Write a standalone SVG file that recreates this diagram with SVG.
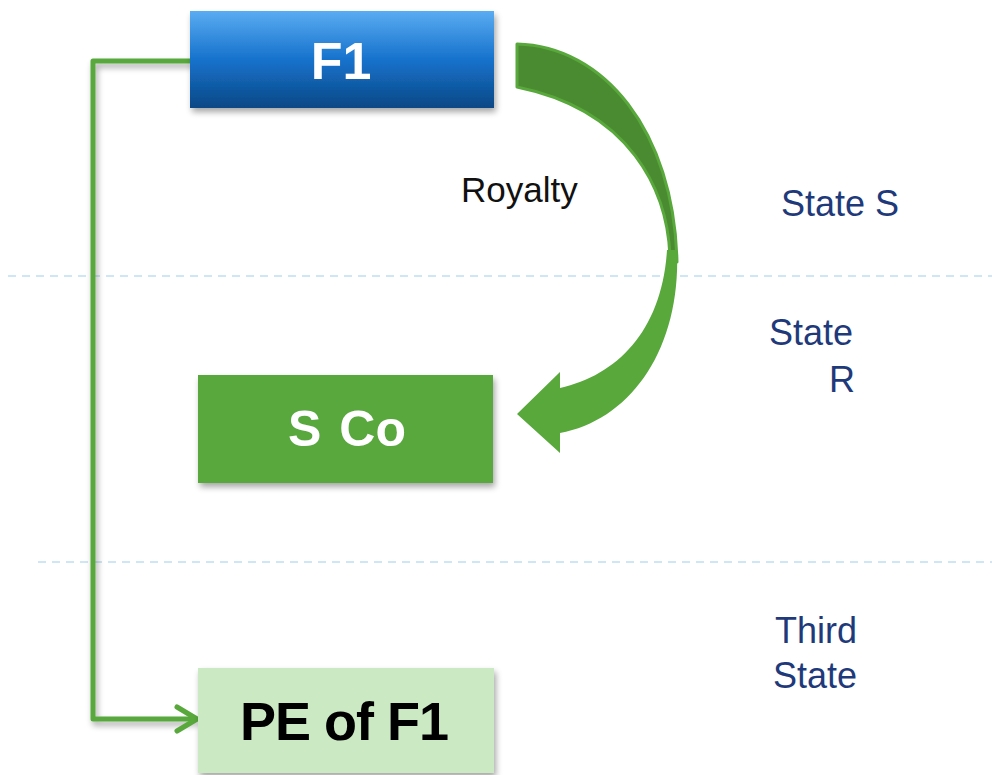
<svg xmlns="http://www.w3.org/2000/svg" width="992" height="775" viewBox="0 0 992 775">
<style>
.sep{stroke:#cfe6f5;stroke-width:2;stroke-dasharray:8 6;fill:none}
.state{font-family:"Liberation Sans",Arial,sans-serif;font-size:36px;fill:#1f3a7a}
.nodeT{font-family:"Liberation Sans",Arial,sans-serif;font-weight:bold;text-anchor:middle}
.conn{fill:none;stroke:#58a83c;stroke-width:5;stroke-linejoin:round;stroke-linecap:round}
</style>
<defs>
<linearGradient id="blue" x1="0" y1="0" x2="0" y2="1">
<stop offset="0" stop-color="#5aacf2"/>
<stop offset="0.5" stop-color="#1672cc"/>
<stop offset="1" stop-color="#0c4886"/>
</linearGradient>
<filter id="sh" x="-10%" y="-10%" width="130%" height="140%">
<feGaussianBlur in="SourceAlpha" stdDeviation="3"/>
<feOffset dx="2" dy="4"/>
<feComponentTransfer><feFuncA type="linear" slope="0.35"/></feComponentTransfer>
<feMerge><feMergeNode/><feMergeNode in="SourceGraphic"/></feMerge>
</filter>
</defs>
<rect width="992" height="775" fill="#ffffff"/>
<line class="sep" x1="8" y1="276" x2="992" y2="276"/>
<line class="sep" x1="38" y1="562" x2="992" y2="562"/>
<g id="connectors">
<polyline class="conn" filter="url(#sh)" points="190,61 93,61 93,719 195,719"/>
<polyline class="conn" points="177,707 197,719 177,731"/>
<g id="royalty-arrow">
<path d="M517,44 C603,46 674,130 677,262 L670,258 C668,190 630,110 517,87 Z" fill="#4a8a30" stroke="#58a83c" stroke-width="3" stroke-linejoin="round"/>
<path d="M677,250 C681,350 630,420 560,433 L560,453 L517,414 L560,372 L560,388 C618,375 662,330 667,250 Z" fill="#58a83c"/>
</g>
</g>
<g id="F1">
<rect x="190" y="11" width="304" height="97" fill="url(#blue)" filter="url(#sh)"/>
<text class="nodeT" x="341" y="79" font-size="52" fill="#ffffff">F1</text>
</g>
<g id="SCo">
<rect x="198" y="375" width="295" height="108" fill="#58a83c" filter="url(#sh)"/>
<text class="nodeT" x="347" y="446" font-size="50" fill="#ffffff" word-spacing="4">S Co</text>
</g>
<g id="PE">
<rect x="198" y="668" width="296" height="105" fill="#cbe9c2" filter="url(#sh)"/>
<text class="nodeT" x="344" y="740" font-size="54" fill="#000000" letter-spacing="-1">PE of F1</text>
</g>
<text x="461" y="202" font-family="Liberation Sans,Arial,sans-serif" font-size="35" fill="#111111">Royalty</text>
<text class="state" x="781" y="216">State S</text>
<text class="state" x="769" y="345">State</text>
<text class="state" x="829" y="392">R</text>
<text class="state" x="775" y="643">Third</text>
<text class="state" x="773" y="688">State</text>
</svg>
